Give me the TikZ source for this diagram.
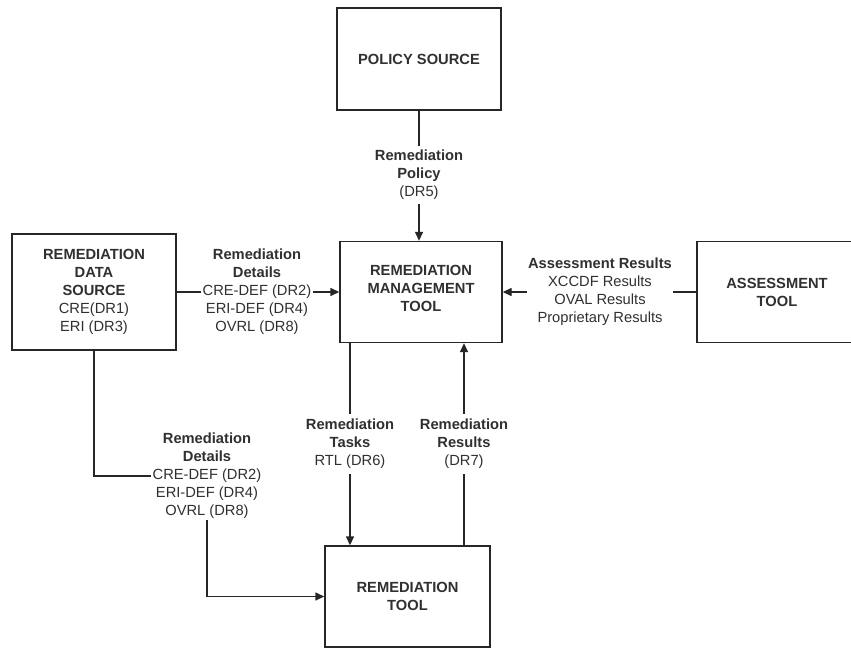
\documentclass[tikz,border=0pt]{standalone}
\usepackage{fontspec}
\setmainfont{Liberation Sans}
\usetikzlibrary{arrows.meta}
\definecolor{ink}{HTML}{262626}
\definecolor{txt}{HTML}{303030}
\begin{document}
\begin{tikzpicture}[x=1pt,y=-1pt,
  box/.style={draw=ink,line width=1.4pt,fill=white,align=center,inner sep=0pt,
    font=\fontsize{14.7}{18}\selectfont,text=txt},
  lbl/.style={align=center,inner sep=1pt,font=\fontsize{14.7}{18}\selectfont,text=txt},
  conn/.style={draw=ink,line width=1.4pt},
  arr/.style={conn,-{Triangle[length=9pt,width=8pt]}}]
\useasboundingbox[fill=white] (0,0) rectangle (851,648);
% boxes
\node[box,minimum width=164pt,minimum height=102pt] (policy) at (419,59) {\textbf{POLICY SOURCE}};
\node[box,minimum width=162pt,minimum height=101pt] (mgmt) at (421,292) {};
\node[lbl] (mgmttext) at (421,288) {\textbf{REMEDIATION}\\\textbf{MANAGEMENT}\\\textbf{TOOL}};
\node[box,minimum width=164pt,minimum height=116pt] (rds) at (94,292) {\textbf{REMEDIATION}\\\textbf{DATA}\\\textbf{SOURCE}\\CRE(DR1)\\ERI (DR3)};
\node[box,minimum width=170pt,minimum height=101pt,text width=150pt] (assess) at (782,292) {\hspace*{-10pt}\textbf{ASSESSMENT}\\\hspace*{-10pt}\textbf{TOOL}};
\node[box,minimum width=165pt,minimum height=101pt] (rtool) at (407.5,596.5) {\textbf{REMEDIATION}\\\textbf{TOOL}};
% labels
\node[lbl,inner sep=4pt] (plabel) at (419,175) {\textbf{Remediation}\\\textbf{Policy}\\(DR5)};
\node[lbl] (d1) at (257,292) {\textbf{Remediation}\\\textbf{Details}\\CRE-DEF (DR2)\\ERI-DEF (DR4)\\OVRL (DR8)};
\node[lbl] (alabel) at (600,292) {\textbf{Assessment Results}\\XCCDF Results\\OVAL Results\\Proprietary Results};
\node[lbl] (d2) at (207,476) {\textbf{Remediation}\\\textbf{Details}\\CRE-DEF (DR2)\\ERI-DEF (DR4)\\OVRL (DR8)};
\node[lbl,inner sep=5pt] (tasks) at (350,444) {\textbf{Remediation}\\\textbf{Tasks}\\RTL (DR6)};
\node[lbl,inner sep=5pt] (results) at (464,444) {\textbf{Remediation}\\\textbf{Results}\\(DR7)};
% connectors
\draw[conn] (policy.south) -- (plabel.north);
\draw[arr] (plabel.south) -- (plabel.south |- mgmt.north);
\draw[conn] (rds.east) -- (d1.west);
\draw[arr] (d1.east) -- (mgmt.west);
\draw[conn] (assess.west) -- (alabel.east);
\draw[arr] (alabel.west) -- (mgmt.east);
\draw[conn] (rds.south) |- (d2.west);
\draw[arr] (d2.south) |- (rtool.west);
\draw[conn] (mgmt.south -| tasks.north) -- (tasks.north);
\draw[arr] (tasks.south) -- (tasks.south |- rtool.north);
\draw[conn] (rtool.north -| results.south) -- (results.south);
\draw[arr] (results.north) -- (results.north |- mgmt.south);
\end{tikzpicture}
\end{document}
